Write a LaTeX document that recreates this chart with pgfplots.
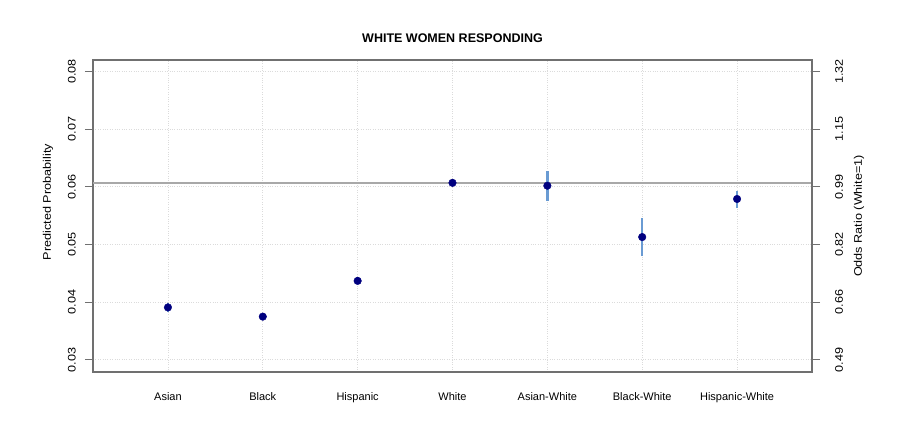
\documentclass[border=0pt]{standalone}
\usepackage{fontspec}
\setmainfont{Liberation Sans}
\usepackage{graphicx}
\usepackage{pgfplots}
\usepackage{pgfplotstable}
\pgfplotsset{compat=1.18}
\definecolor{pt}{HTML}{00007F}
\definecolor{eb}{HTML}{6A9BD3}
\definecolor{bx}{HTML}{707070}
\definecolor{rl}{HTML}{A8A8A8}
\newcommand{\V}[1]{\scalebox{1.15}[1]{#1}}
\pgfplotstableread{
x y ep em
1 0.0391 0.0008 0.0008
2 0.0375 0.0006 0.0006
3 0.0437 0.0006 0.0006
4 0.0607 0.0001 0.0001
5 0.0602 0.0026 0.0026
6 0.0513 0.0033 0.0032
7 0.0579 0.0014 0.0015
}\data
\begin{document}
\begin{tikzpicture}
\path (-93bp,-57bp) rectangle (818bp,372bp);
\begin{axis}[
  scale only axis, width=719bp, height=312bp,
  xmin=0.21, xmax=7.79, ymin=0.0279, ymax=0.082,
  scaled y ticks=false,
  xtick={1,2,3,4,5,6,7},
  xticklabels={Asian,Black,Hispanic,White,Asian-White,Black-White,Hispanic-White},
  ytick={0.03,0.04,0.05,0.06,0.07,0.08},
  yticklabels={\V{0.03},\V{0.04},\V{0.05},\V{0.06},\V{0.07},\V{0.08}},
  axis line style={bx, line width=1.3bp},
  ytick pos=left, xtick pos=bottom,
  tick align=outside, major tick length=8bp,
  x tick style={draw=none},
  y tick style={bx, line width=1bp},
  grid=major, grid style={gray!28, dotted, line width=0.8bp},
  font=\fontsize{11bp}{13bp}\selectfont,
  xticklabel style={anchor=north, inner sep=0pt},
  xticklabel shift=12bp,
  yticklabel style={rotate=90, anchor=south, inner sep=0pt},
  yticklabel shift=9bp,
]
\addplot[rl, line width=1.5bp, mark=none] coordinates {(0.21,0.0607) (7.79,0.0607)};
\addplot[draw=none, mark=none, error bars/.cd, y dir=both, y explicit,
  error bar style={eb, line width=2.5bp}, error mark=none]
  table[x=x, y=y, y error plus=ep, y error minus=em]{\data};
\addplot[only marks, mark=*, mark size=3.8bp, pt, mark options={fill=pt, draw=pt}]
  table[x=x, y=y]{\data};
\end{axis}
\begin{axis}[
  scale only axis, width=719bp, height=312bp,
  xmin=0.21, xmax=7.79, ymin=0.0279, ymax=0.082,
  scaled y ticks=false,
  axis x line=none, axis y line*=right,
  axis line style={bx, line width=1.3bp, -},
  ytick={0.03,0.04,0.05,0.06,0.07,0.08},
  yticklabels={\V{0.49},\V{0.66},\V{0.82},\V{0.99},\V{1.15},\V{1.32}},
  tick align=outside, major tick length=8bp,
  y tick style={bx, line width=1bp},
  font=\fontsize{11bp}{13bp}\selectfont,
  yticklabel style={rotate=90, anchor=north, inner sep=0pt},
  yticklabel shift=15bp,
]
\end{axis}
\node[rotate=90, font=\fontsize{11bp}{13bp}\selectfont] at (-45bp,170bp) {\V{Predicted Probability}};
\node[rotate=90, font=\fontsize{11bp}{13bp}\selectfont] at (766bp,156bp) {\V{Odds Ratio (White=1)}};
\node[font=\fontsize{12.5bp}{15bp}\selectfont\bfseries] at (359.5bp,334bp) {WHITE WOMEN RESPONDING};
\end{tikzpicture}
\end{document}
